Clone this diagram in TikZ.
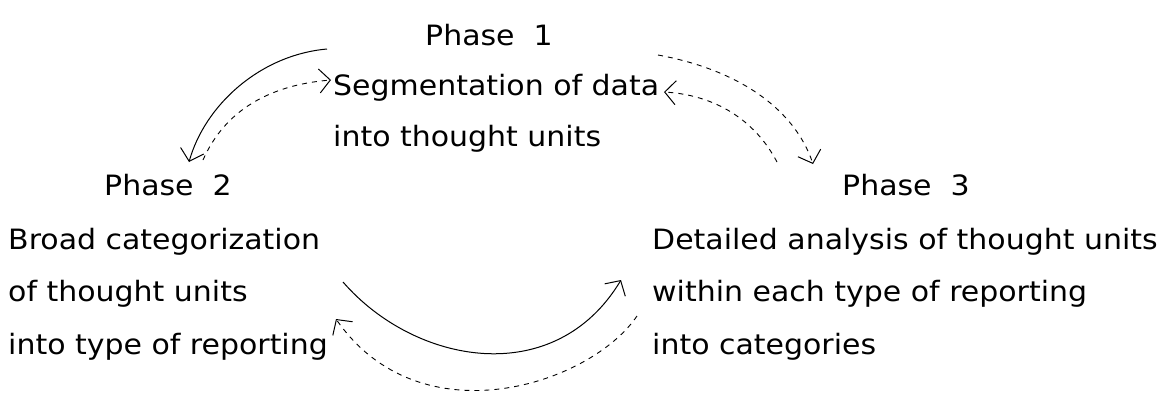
\documentclass[tikz,border=0pt]{standalone}
\usepackage{fontspec}
\setmainfont[FakeStretch=1.07]{DejaVu Sans}
\usetikzlibrary{arrows.meta}
\begin{document}
\begin{tikzpicture}[x=1pt,y=-1pt,
  lbl/.style={inner sep=0pt,anchor=base west,font=\fontsize{28}{32}\selectfont},
  solidarr/.style={line width=1pt,-{Straight Barb[length=11pt,width=24pt,line width=1pt]}},
  dasharr/.style={line width=0.9pt,dash pattern=on 5pt off 5pt,-{Straight Barb[length=11pt,width=24pt,line width=1pt]}}]
\useasboundingbox (0,0) rectangle (1171,394);
\node[lbl] (t1) at (425,45) {Phase\ \ 1};
\node[lbl] (s1a) at (333,95) {Segmentation of data};
\node[lbl] (s1b) at (333,146) {into thought units};
\node[lbl] (t2) at (104,195) {Phase\ \ 2};
\node[lbl] (s2a) at (8,249) {Broad categorization};
\node[lbl] (s2b) at (8,301) {of thought units};
\node[lbl] (s2c) at (8,354) {into type of reporting};
\node[lbl] (t3) at (842,195) {Phase\ \ 3};
\node[lbl] (s3a) at (652,249) {Detailed analysis of thought units};
\node[lbl] (s3b) at (652,301) {within each type of reporting};
\node[lbl] (s3c) at (652,354) {into categories};
% endpoints
\coordinate (a1s) at (327,49);
\coordinate (a1e) at (189,162);
\coordinate (a2s) at (203,160);
\coordinate (a2e) at (331,80);
\coordinate (a3s) at (658,55);
\coordinate (a3e) at (813,164);
\coordinate (a4s) at (777,162);
\coordinate (a4e) at (664,92);
\coordinate (a5s) at (343,282);
\coordinate (a5e) at (621,280);
\coordinate (a6s) at (637,316);
\coordinate (a6e) at (336,319);
\draw[solidarr] (a1s) .. controls (260,55) and (205,105) .. (a1e);
\draw[dasharr] (a2s) .. controls (225,110) and (270,85) .. (a2e);
\draw[dasharr] (a3s) .. controls (740,70) and (795,110) .. (a3e);
\draw[dasharr] (a4s) .. controls (755,120) and (715,95) .. (a4e);
\draw[solidarr] (a5s) .. controls (415,365) and (555,390) .. (a5e);
\draw[dasharr] (a6s) .. controls (590,385) and (420,440) .. (a6e);
\end{tikzpicture}
\end{document}
